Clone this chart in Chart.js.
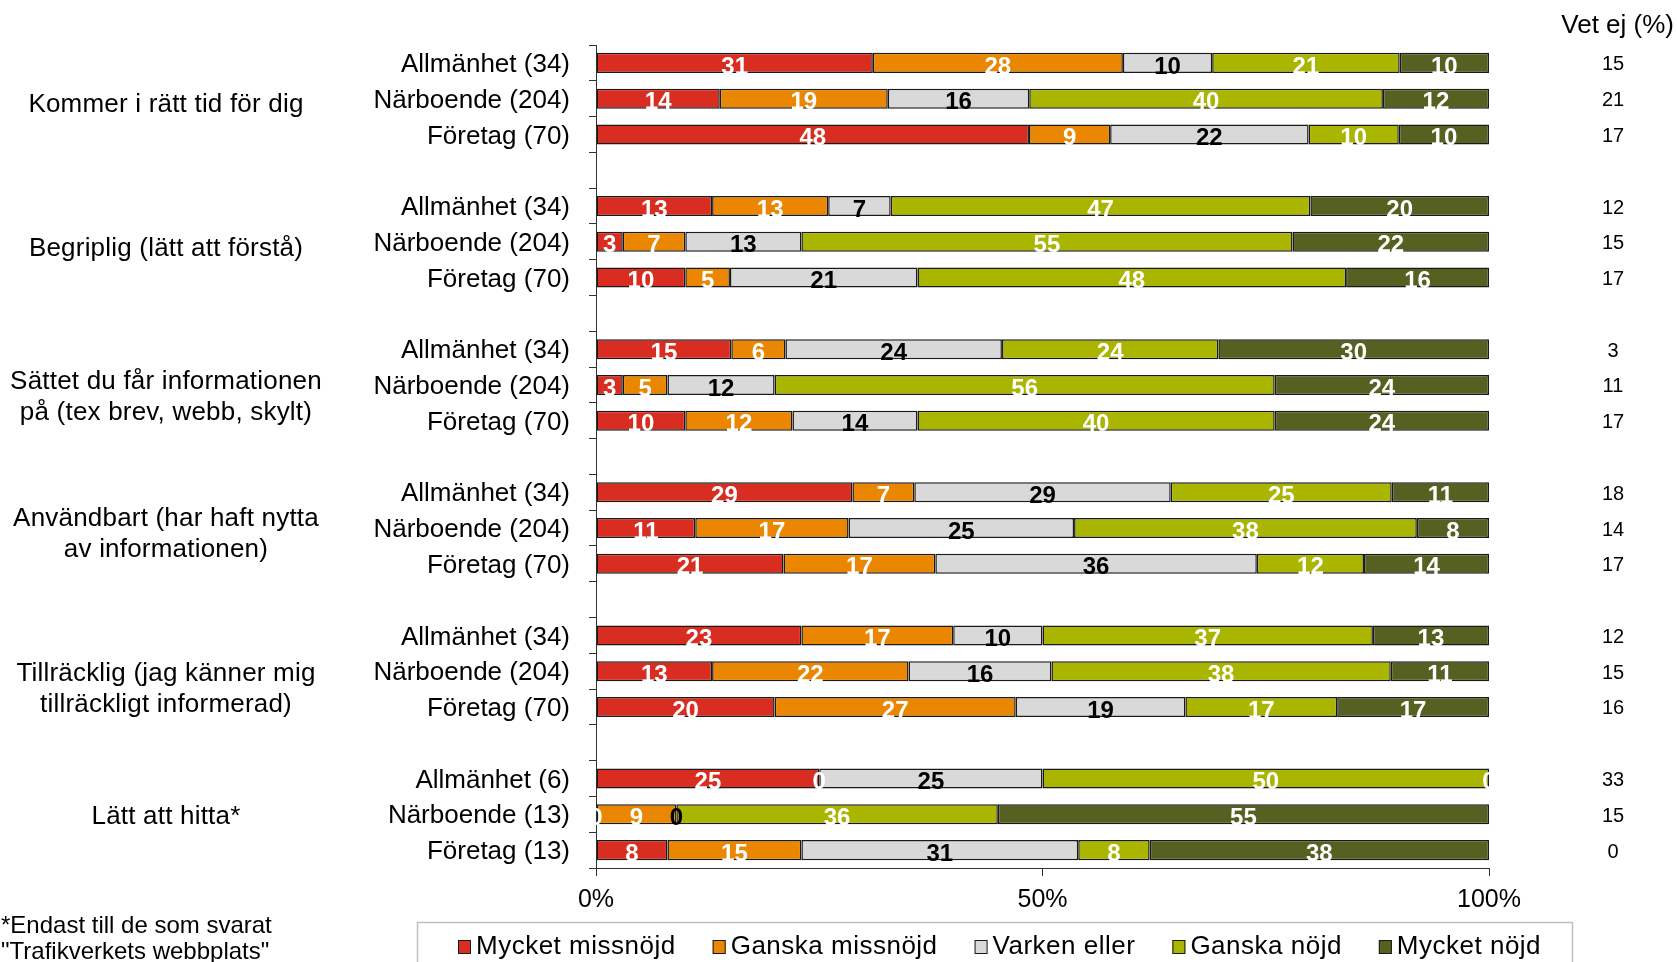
<!DOCTYPE html>
<html>
<head>
<meta charset="utf-8">
<script src="https://cdn.jsdelivr.net/npm/chart.js@4"></script>
<style>
  html, body { margin: 0; padding: 0; background: #fff; }
  #wrap { width: 1677px; height: 962px; position: relative; }
</style>
</head>
<body>
<div id="wrap"><canvas id="chart"></canvas></div>
<script>
// question groups (left column) and respondent rows
const groupLabels = [
  ['Kommer i rätt tid för dig'],
  ['Begriplig (lätt att förstå)'],
  ['Sättet du får informationen', 'på (tex brev, webb, skylt)'],
  ['Användbart (har haft nytta', 'av informationen)'],
  ['Tillräcklig (jag känner mig', 'tillräckligt informerad)'],
  ['Lätt att hitta*'],
];
const rowLabels = [
  'Allmänhet (34)', 'Närboende (204)', 'Företag (70)',
  'Allmänhet (34)', 'Närboende (204)', 'Företag (70)',
  'Allmänhet (34)', 'Närboende (204)', 'Företag (70)',
  'Allmänhet (34)', 'Närboende (204)', 'Företag (70)',
  'Allmänhet (34)', 'Närboende (204)', 'Företag (70)',
  'Allmänhet (6)', 'Närboende (13)', 'Företag (13)',
];

const seriesNames = ['Mycket missnöjd', 'Ganska missnöjd', 'Varken eller', 'Ganska nöjd', 'Mycket nöjd'];
const mycketMissnojd = [31, 14, 48, 13, 3, 10, 15, 3, 10, 29, 11, 21, 23, 13, 20, 25, 0, 8];
const ganskaMissnojd = [28, 19, 9, 13, 7, 5, 6, 5, 12, 7, 17, 17, 17, 22, 27, 0, 9, 15];
const varkenEller    = [10, 16, 22, 7, 13, 21, 24, 12, 14, 29, 25, 36, 10, 16, 19, 25, 0, 31];
const ganskaNojd     = [21, 40, 10, 47, 55, 48, 24, 56, 40, 25, 38, 12, 37, 38, 17, 50, 36, 8];
const mycketNojd     = [10, 12, 10, 20, 22, 16, 30, 24, 24, 11, 8, 14, 13, 11, 17, 0, 55, 38];
const vetEj          = [15, 21, 17, 12, 15, 17, 3, 11, 17, 18, 14, 17, 12, 15, 16, 33, 15, 0];

const xTicks = [0, 50, 100];

const colors = ['#d92d21', '#eb8600', '#d9d9d9', '#aab500', '#566021'];
const labelColors = ['#fff', '#fff', '#000', '#fff', '#fff'];
const groupNudge = [6, 7, 12, 6, 18, 3];
const FONT = '"Liberation Sans", Arial, sans-serif';

// slot layout: 3 rows per group, one empty slot between groups
const slotLabels = [];
const slotRow = [];
groupLabels.forEach((g, gi) => {
  for (let r = 0; r < 3; r++) {
    slotLabels.push(rowLabels[gi * 3 + r]);
    slotRow.push(gi * 3 + r);
  }
  if (gi < groupLabels.length - 1) {
    slotLabels.push('');
    slotRow.push(null);
  }
});

const allSeries = [mycketMissnojd, ganskaMissnojd, varkenEller, ganskaNojd, mycketNojd];
const rowSums = rowLabels.map((_, i) => allSeries.reduce((s, arr) => s + arr[i], 0));

const datasets = allSeries.map((arr, si) => ({
  label: seriesNames[si],
  data: slotRow.map((r) => (r === null ? null : arr[r] / rowSums[r] * 100)),
  rawVals: slotRow.map((r) => (r === null ? null : arr[r])),
  backgroundColor: colors[si],
  borderColor: '#1a1a1a',
  borderWidth: 1.5,
  borderSkipped: false,
  barPercentage: 0.56,
  categoryPercentage: 1,
}));

const extras = {
  id: 'extras',
  afterDatasetsDraw(chart) {
    const ctx = chart.ctx;
    const area = chart.chartArea;
    // value labels inside bars, clipped to the plot area
    ctx.save();
    ctx.beginPath();
    ctx.rect(area.left, area.top, area.right - area.left, area.bottom - area.top);
    ctx.clip();
    ctx.font = 'bold 24px ' + FONT;
    ctx.textAlign = 'center';
    ctx.textBaseline = 'middle';
    chart.data.datasets.forEach((ds, di) => {
      const meta = chart.getDatasetMeta(di);
      meta.data.forEach((bar, j) => {
        const v = ds.rawVals[j];
        if (v === null) return;
        ctx.fillStyle = labelColors[di];
        ctx.fillText(String(v), (bar.x + bar.base) / 2, bar.y + 4);
      });
    });
    ctx.restore();
  },
  afterDraw(chart) {
    const ctx = chart.ctx;
    const y = chart.scales.y;
    ctx.save();
    ctx.fillStyle = '#000';
    ctx.textBaseline = 'middle';

    // row labels next to the axis
    ctx.font = '26px ' + FONT;
    ctx.textAlign = 'right';
    slotLabels.forEach((lab, j) => {
      if (!lab) return;
      ctx.fillText(lab, 570, y.getPixelForValue(j) + 2);
    });

    // group labels on the left
    ctx.letterSpacing = '0.2px';
    ctx.textAlign = 'center';
    groupLabels.forEach((lines, gi) => {
      const cy = y.getPixelForValue(gi * 4 + 1) + groupNudge[gi];
      const lh = 31;
      lines.forEach((line, li) => {
        ctx.fillText(line, 166, cy + (li - (lines.length - 1) / 2) * lh);
      });
    });
    ctx.letterSpacing = '0px';

    // Vet ej column
    ctx.textAlign = 'right';
    ctx.fillText('Vet ej (%)', 1674, 26);
    ctx.font = '20px ' + FONT;
    ctx.textAlign = 'center';
    slotRow.forEach((r, j) => {
      if (r === null) return;
      ctx.fillText(String(vetEj[r]), 1613, y.getPixelForValue(j) + 2);
    });

    // footnote
    ctx.font = '24px ' + FONT;
    ctx.textAlign = 'left';
    ctx.fillText('*Endast till de som svarat', 1, 926);
    ctx.fillText('"Trafikverkets webbplats"', 1, 952);

    // legend box
    ctx.strokeStyle = '#bfbfbf';
    ctx.lineWidth = 1.5;
    ctx.strokeRect(417.5, 922.5, 1155, 60);
    ctx.font = '26px ' + FONT;
    ctx.letterSpacing = '0.5px';
    let lx = 458;
    const ly = 947;
    chart.data.datasets.forEach((ds) => {
      ctx.fillStyle = ds.backgroundColor;
      ctx.fillRect(lx, ly - 7, 13, 14);
      ctx.strokeStyle = '#1a1a1a';
      ctx.lineWidth = 1;
      ctx.strokeRect(lx + 0.5, ly - 6.5, 12, 13);
      ctx.fillStyle = '#000';
      ctx.fillText(ds.label, lx + 18, ly);
      lx += 18 + ctx.measureText(ds.label).width + 37;
    });
    ctx.restore();
  },
};

new Chart(document.getElementById('chart'), {
  type: 'bar',
  data: { labels: slotLabels, datasets },
  options: {
    indexAxis: 'y',
    responsive: true,
    maintainAspectRatio: false,
    animation: false,
    layout: { padding: { top: 45, right: 188, left: 0, bottom: 0 } },
    plugins: { legend: { display: false }, tooltip: { enabled: false } },
    scales: {
      x: {
        stacked: true,
        min: 0,
        max: 100,
        afterBuildTicks: (s) => { s.ticks = xTicks.map((v) => ({ value: v })); },
        ticks: { callback: (v) => v + '%', color: '#000', font: { size: 25, family: FONT }, padding: 9, maxRotation: 0 },
        grid: { drawOnChartArea: false, tickLength: 8, color: '#333' },
        border: { color: '#333', width: 1 },
        afterFit: (s) => { s.height = 94; },
      },
      y: {
        stacked: true,
        ticks: { display: false, autoSkip: false },
        grid: { drawOnChartArea: false, offset: true, tickLength: 7, color: '#333' },
        border: { color: '#333', width: 1 },
        afterFit: (s) => { s.width = 596; },
      },
    },
  },
  plugins: [extras],
});
</script>
</body>
</html>
